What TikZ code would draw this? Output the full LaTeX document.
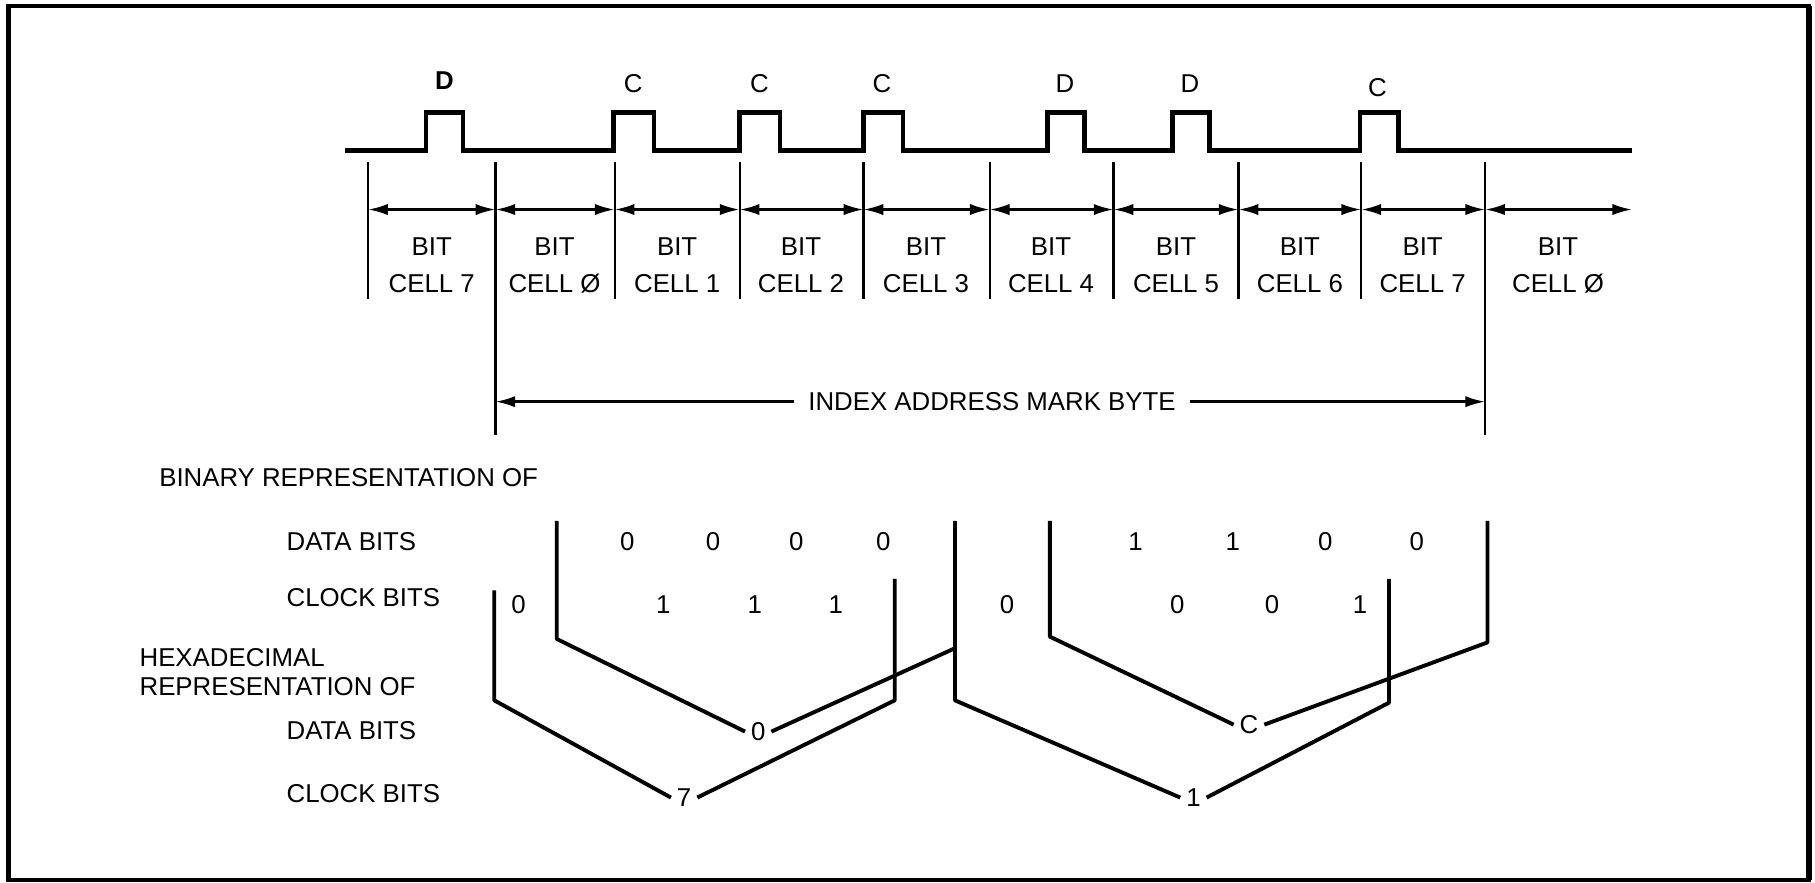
\documentclass[tikz,border=0pt]{standalone}
\usepackage{fontspec}
\setmainfont{Liberation Sans}
\usetikzlibrary{arrows.meta}
\begin{document}
\begin{tikzpicture}[x=0.0115cm,y=-0.0115cm,
  lbl/.style={font=\fontsize{7.3}{8.5}\selectfont, inner sep=0pt},
  hexl/.style={font=\fontsize{7.3}{8.5}\selectfont, inner sep=1.5pt},
  wave/.style={line width=1.25pt, line join=miter},
  tickln/.style={line width=0.65pt},
  tip/.tip={Latex[length=5.6pt,width=3.2pt]},
  dimln/.style={line width=0.7pt, tip-tip},
  brk/.style={line width=1.1pt, line join=round},
  frm/.style={line width=1pt}
  ]
\useasboundingbox (0,0) rectangle (1568,762);
% frame
\draw[frm] (7,5) rectangle (1563,760);
\draw[line width=1.6pt] (1563,5) -- (1563,760);
\draw[line width=1.4pt] (7,5) -- (7,760);

% waveform
\draw[wave] (298,130) -- (368,130) -- (368,97) -- (400,97) -- (400,130)
  -- (530,130) -- (530,97) -- (565,97) -- (565,130)
  -- (639,130) -- (639,97) -- (674,97) -- (674,130)
  -- (746,130) -- (746,97) -- (780,97) -- (780,130)
  -- (905,130) -- (905,97) -- (937,97) -- (937,130)
  -- (1013,130) -- (1013,97) -- (1045,97) -- (1045,130)
  -- (1175,130) -- (1175,97) -- (1208,97) -- (1208,130) -- (1410,130);

% pulse labels
\node[lbl, font=\fontsize{7.3}{8.5}\selectfont\bfseries] (p1) at (384,70) {D};
\node[lbl] (p2) at (547,72) {C};
\node[lbl] (p3) at (656,72) {C};
\node[lbl] (p4) at (762,72) {C};
\node[lbl] (p5) at (920,72) {D};
\node[lbl] (p6) at (1028,72) {D};
\node[lbl] (p7) at (1190,76) {C};

% cell boundaries
\foreach \n/\x in {0/318,1/428,2/531,3/639,4/746,5/855,6/962,7/1070,8/1176,9/1283}{
  \coordinate (t\n) at (\x,140);
  \coordinate (m\n) at (\x,181);
}
\coordinate (m10) at (1410,181);
\foreach \n in {0,2,3,4,5,6,7,8}{
  \draw[tickln] (t\n) -- ++(0,118);
}
\draw[tickln] (t1) -- ++(0,236) coordinate (e1);
\draw[tickln] (t9) -- ++(0,236) coordinate (e9);
\foreach \a/\b in {0/1,1/2,2/3,3/4,4/5,5/6,6/7,7/8,8/9,9/10}{
  \draw[dimln] (m\a) -- (m\b);
}

% cell labels
\foreach \n/\x/\c in {0/373/7,1/479/\O,2/585/1,3/692/2,4/800/3,5/908/4,6/1016/5,7/1123/6,8/1229/7,9/1346/\O}{
  \node[lbl] (bit\n) at (\x,213) {BIT};
  \node[lbl] (cell\n) at (\x,245) {CELL \c};
}

% index address mark byte
\node[lbl, inner sep=4pt] (iam) at (857,347) {INDEX ADDRESS MARK BYTE};
\coordinate (iamL) at (428,347);
\coordinate (iamR) at (1283,347);
\draw[line width=0.7pt, -tip] (iam.west) -- (iamL);
\draw[line width=0.7pt, -tip] (iam.east) -- (iamR);

% left labels
\node[lbl, anchor=west] (bin) at (137,413) {BINARY REPRESENTATION OF};
\node[lbl, anchor=west] (db1) at (247,468) {DATA BITS};
\node[lbl, anchor=west] (cb1) at (247,516) {CLOCK BITS};
\node[lbl, anchor=west] (hex) at (120,568) {HEXADECIMAL};
\node[lbl, anchor=west] (rep) at (120,593) {REPRESENTATION OF};
\node[lbl, anchor=west] (db2) at (247,631) {DATA BITS};
\node[lbl, anchor=west] (cb2) at (247,686) {CLOCK BITS};

% data bits
\foreach \x/\v [count=\i] in {542/0,616/0,688/0,763/0,981/1,1065/1,1145/0,1224/0}{
  \node[lbl] (d\i) at (\x,468) {\v};
}
% clock bits
\foreach \x/\v [count=\i] in {448/0,573/1,652/1,722/1,870/0,1017/0,1099/0,1175/1}{
  \node[lbl] (c\i) at (\x,522) {\v};
}

% hex digits
\node[hexl] (h0) at (655,632) {0};
\node[hexl] (h7) at (591,689) {7};
\node[hexl] (hC) at (1079,626) {C};
\node[hexl] (h1) at (1031,689) {1};

% brackets
\draw[brk] (481,450) -- (481,552) -- (h0.west);
\draw[brk] (h0.east) -- (825,560);
\draw[brk] (427,510) -- (427,605) -- (h7.west);
\draw[brk] (h7.east) -- (773,605) -- (773,500);
\draw[brk] (825,450) -- (825,605) -- (h1.west);
\draw[brk] (h1.east) -- (1200,607) -- (1200,500);
\draw[brk] (907,450) -- (907,550) -- (hC.west);
\draw[brk] (hC.east) -- (1285,555) -- (1285,450);
\end{tikzpicture}
\end{document}
